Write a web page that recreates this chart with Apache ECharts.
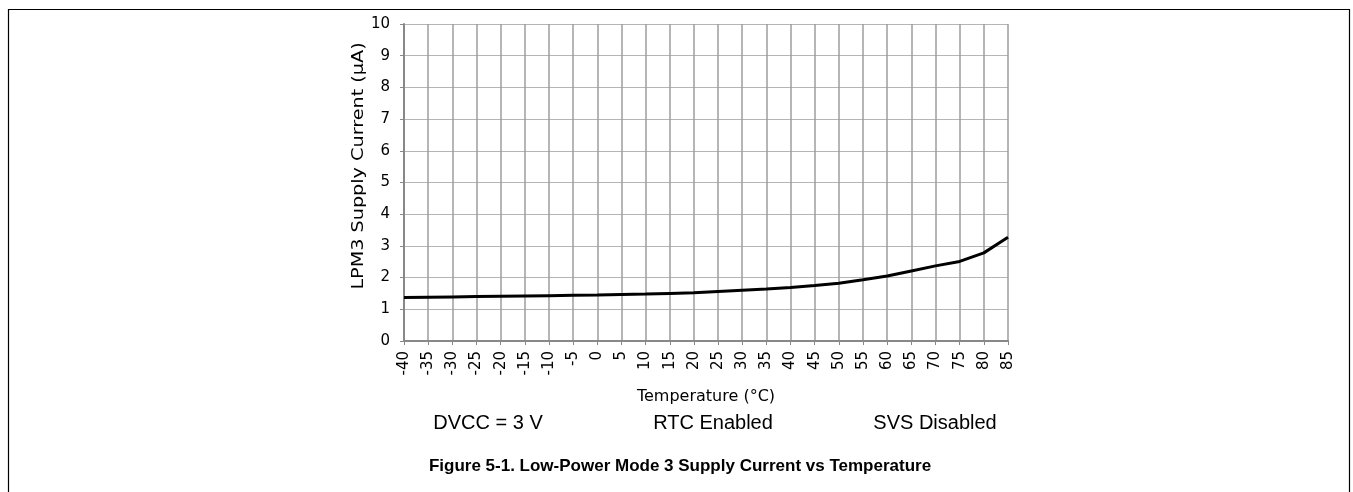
<!DOCTYPE html>
<html>
<head>
<meta charset="utf-8">
<script src="https://cdn.jsdelivr.net/npm/echarts@6/dist/echarts.min.js"></script>
<style>
html,body{margin:0;padding:0;background:#fff;}
#chart{width:1353px;height:492px;}
</style>
</head>
<body>
<div id="chart"></div>
<script>
const temperatures = [-40,-35,-30,-25,-20,-15,-10,-5,0,5,10,15,20,25,30,35,40,45,50,55,60,65,70,75,80,85];
const currentUA = [1.37,1.38,1.39,1.40,1.41,1.42,1.43,1.44,1.45,1.47,1.48,1.50,1.52,1.56,1.60,1.64,1.69,1.75,1.82,1.93,2.05,2.21,2.37,2.51,2.78,3.27];
const xAxisTitle = 'Temperature (°C)';
const yAxisTitle = 'LPM3 Supply Current (µA)';
const conditions = ['DVCC = 3 V', 'RTC Enabled', 'SVS Disabled'];
const caption = 'Figure 5-1. Low-Power Mode 3 Supply Current vs Temperature';

const TICKFONT = '"DejaVu Sans", sans-serif';
const FONT = '"Liberation Sans", Arial, sans-serif';
const chart = echarts.init(document.getElementById('chart'), null, {renderer: 'canvas'});
chart.setOption({
  animation: false,
  backgroundColor: '#fff',
  grid: {left: 404, right: 345, top: 24, bottom: 151, containLabel: false},
  xAxis: {
    type: 'value', min: -40, max: 85, interval: 5,
    axisLine: {show: true, onZero: false, lineStyle: {color: '#888', width: 2}},
    axisTick: {show: true, length: 4, lineStyle: {color: '#888', width: 1}},
    axisLabel: {rotate: 90, margin: 10, fontFamily: TICKFONT, fontSize: 15, color: '#000'},
    splitLine: {show: true, lineStyle: {color: '#9c9c9c', width: 1.5}}
  },
  yAxis: {
    type: 'value', min: 0, max: 10, interval: 1,
    axisLine: {show: true, onZero: false, lineStyle: {color: '#888', width: 2}},
    axisTick: {show: true, length: 4, lineStyle: {color: '#888', width: 1}},
    axisLabel: {margin: 14, fontFamily: TICKFONT, fontSize: 15, color: '#000'},
    splitLine: {show: true, lineStyle: {color: '#b5b5b5', width: 1.2}}
  },
  series: [{
    type: 'line',
    data: temperatures.map((t, i) => [t, currentUA[i]]),
    showSymbol: false,
    lineStyle: {color: '#000', width: 3},
    z: 5
  }],
  graphic: [
    {type: 'rect', shape: {x: 8.5, y: 9.5, width: 1341, height: 520}, style: {fill: 'none', stroke: '#000', lineWidth: 1.2}, silent: true},
    {type: 'text', x: 359, y: 166, rotation: Math.PI / 2, scaleX: 1.2, style: {text: yAxisTitle, font: '16px ' + TICKFONT, fill: '#000', textAlign: 'center', textVerticalAlign: 'middle'}},
    {type: 'text', x: 706, y: 397, style: {text: xAxisTitle, font: '16px ' + TICKFONT, fill: '#000', textAlign: 'center', textVerticalAlign: 'middle'}},
    {type: 'text', x: 488, y: 423, style: {text: conditions[0], font: '20px ' + FONT, fill: '#000', textAlign: 'center', textVerticalAlign: 'middle'}},
    {type: 'text', x: 713, y: 423, style: {text: conditions[1], font: '20px ' + FONT, fill: '#000', textAlign: 'center', textVerticalAlign: 'middle'}},
    {type: 'text', x: 935, y: 423, style: {text: conditions[2], font: '20px ' + FONT, fill: '#000', textAlign: 'center', textVerticalAlign: 'middle'}},
    {type: 'text', x: 680, y: 466, style: {text: caption, font: 'bold 17px ' + FONT, fill: '#000', textAlign: 'center', textVerticalAlign: 'middle'}}
  ]
});
</script>
</body>
</html>
